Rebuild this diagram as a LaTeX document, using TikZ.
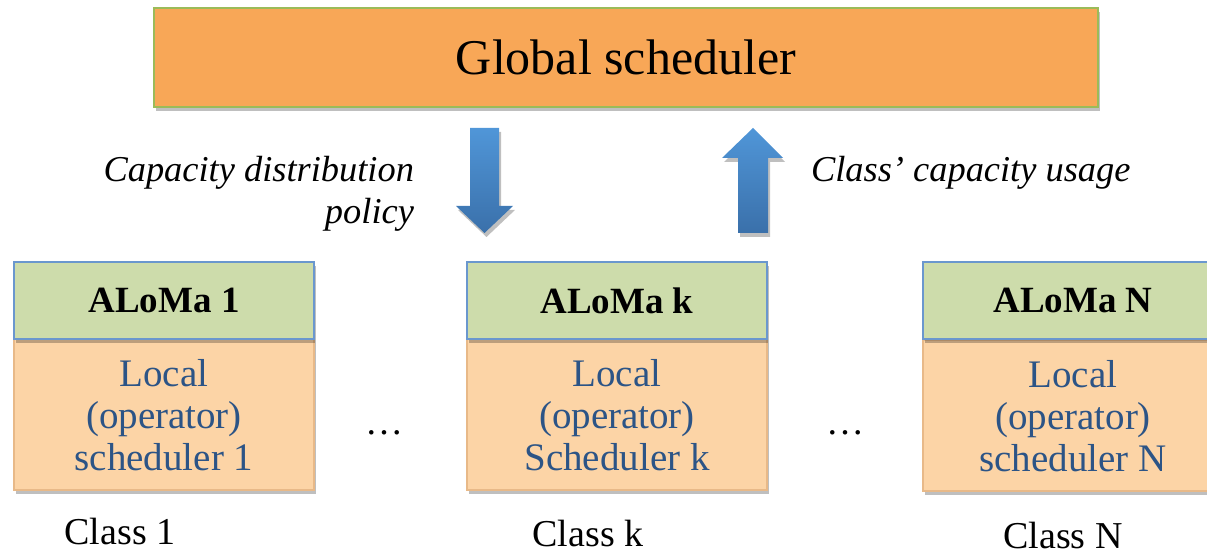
\documentclass[tikz,border=0pt]{standalone}
\usepackage{fontspec}
\setmainfont{Liberation Serif}
\usetikzlibrary{shadows}
\definecolor{gsorange}{HTML}{F8A757}
\definecolor{gsborder}{HTML}{9BBB59}
\definecolor{alogreen}{HTML}{CDDCAB}
\definecolor{aloborder}{HTML}{6A97CE}
\definecolor{localfill}{HTML}{FCD4A6}
\definecolor{localedge}{HTML}{E8B988}
\definecolor{localtext}{HTML}{2C5486}
\definecolor{arrowtop}{HTML}{5096D8}
\definecolor{arrowbot}{HTML}{3A70AA}
\tikzset{
  shad/.style={drop shadow={shadow xshift=1pt,shadow yshift=-2pt,fill=black,opacity=0.25}},
  globalbox/.style={shad,fill=gsorange,draw=gsborder,line width=1.2pt,minimum width=472pt,minimum height=49.5pt,inner sep=0pt,font=\fontsize{25}{29}\selectfont},
  alobox/.style={shad,fill=alogreen,draw=aloborder,line width=0.8pt,minimum width=150pt,minimum height=38.5pt,inner sep=0pt,font=\fontsize{18.5}{22}\selectfont\bfseries},
  localbox/.style={shad,fill=localfill,draw=localedge,line width=1pt,minimum width=150pt,minimum height=75.5pt,inner sep=0pt,align=center,text=localtext,font=\fontsize{19.5}{21}\selectfont},
  classlbl/.style={font=\fontsize{19}{22}\selectfont},
  itlbl/.style={font=\fontsize{18.2}{21}\selectfont\itshape},
  blockarrow/.style={shad,top color=arrowtop,bottom color=arrowbot,draw=none}
}
\begin{document}
\begin{tikzpicture}[x=0.5pt,y=-0.5pt]
\useasboundingbox (0,0) rectangle (1207,555);
\node[globalbox] (global) at (626,57.5) {Global scheduler};

% block arrows
\coordinate (dtop) at (484.5,128);
\coordinate (dtip) at (484.5,233);
\path[blockarrow] (470,128) -- (499,128) -- (499,206) -- (513,206) -- (dtip) -- (456,206) -- (470,206) -- cycle;
\coordinate (utip) at (753,128);
\coordinate (ubot) at (753,233);
\path[blockarrow] (738,233) -- (768,233) -- (768,158) -- (783,158) -- (utip) -- (722,158) -- (738,158) -- cycle;

\node[itlbl,anchor=east,align=right] (cdp) at (421,194) {Capacity distribution\\policy};
\node[itlbl,anchor=west] (ccu) at (804,173) {Class’ capacity usage};

% class boxes
\node[localbox] (loc1) at (164,415) {Local\\(operator)\\scheduler 1};
\node[alobox] (alo1) at (164,300.5) {ALoMa 1};
\node[localbox] (lock) at (617,415) {Local\\(operator)\\Scheduler k};
\node[alobox] (alok) at (617,300.5) {ALoMa k};
\node[localbox] (locN) at (1073,416) {Local\\(operator)\\scheduler N};
\node[alobox] (aloN) at (1073,300.5) {ALoMa N};

\node[classlbl] (dots1) at (384,433) {…};
\node[classlbl] (dots2) at (845,433) {…};

\node[classlbl] (c1) at (120,532) {Class 1};
\node[classlbl] (ck) at (588,534) {Class k};
\node[classlbl] (cN) at (1063,536) {Class N};
\end{tikzpicture}
\end{document}
